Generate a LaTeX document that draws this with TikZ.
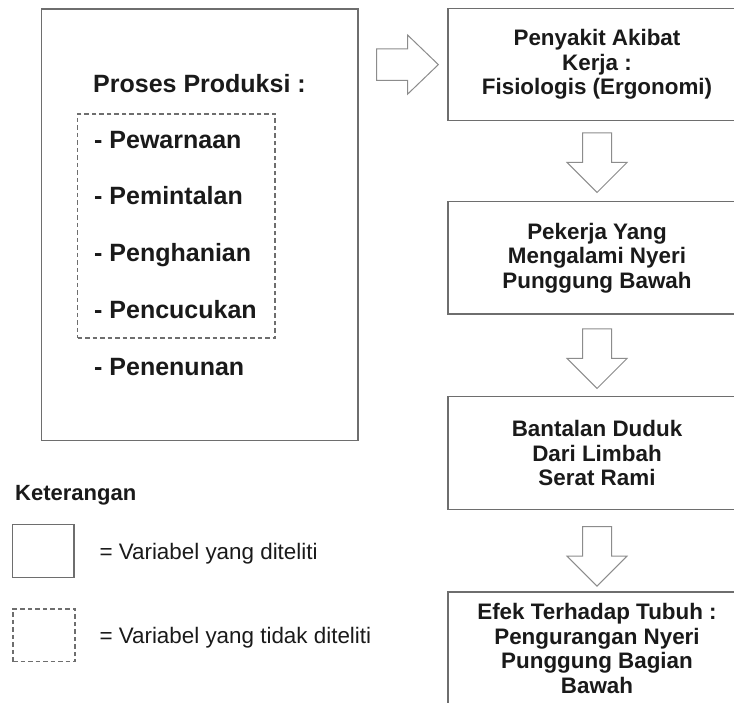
\documentclass[tikz,border=0pt]{standalone}
\usepackage{fontspec}
\setmainfont{Liberation Sans}
\usetikzlibrary{calc}
\definecolor{boxline}{HTML}{6E6E6E}
\definecolor{arrline}{HTML}{8C8C8C}
\definecolor{txt}{HTML}{1A1A1A}
\begin{document}
\begin{tikzpicture}[x=1pt,y=-1pt,
  solidbox/.style={draw=boxline, line width=1.3pt, inner sep=0pt},
  dashbox/.style={draw=boxline, line width=1.1pt, dash pattern=on 4.5pt off 3pt, inner sep=0pt},
  rbox/.style={solidbox, minimum width=298pt, align=center, text=txt,
    font=\fontsize{22.4}{24.5}\selectfont\bfseries},
  itemtext/.style={anchor=base west, inner sep=0pt, text=txt,
    font=\fontsize{25}{30}\selectfont\bfseries},
  legtext/.style={anchor=base west, inner sep=0pt, text=txt,
    font=\fontsize{22.4}{26}\selectfont},
  arrowshape/.style={draw=arrline, line width=1pt, line join=miter, fill=white},
  downarrow/.pic={\draw[arrowshape] (-14.5,0) -- (14.5,0) -- (14.5,29.5) -- (30,29.5) -- (0,59.5) -- (-30,29.5) -- (-14.5,29.5) -- cycle;},
  rightarrow/.pic={\draw[arrowshape] (0,-15.8) -- (31,-15.8) -- (31,-29.5) -- (61.7,0) -- (31,29.5) -- (31,15.8) -- (0,15.8) -- cycle;}
]
\useasboundingbox (0,0) rectangle (734,702);
\clip (0,0) rectangle (734,702);
\fill[white] (0,0) rectangle (734,702);

% left box
\node[solidbox, minimum width=316.5pt, minimum height=431.5pt] (left) at (199.75,224.75) {};
\node[itemtext] (title) at (93,92) {Proses Produksi :};
\node[dashbox, minimum width=197.3pt, minimum height=224pt] (dbox) at (176.35,226) {};
\node[itemtext] (i1) at (94,148) {- Pewarnaan};
\node[itemtext] (i2) at (94,204.5) {- Pemintalan};
\node[itemtext] (i3) at (94,261) {- Penghanian};
\node[itemtext] (i4) at (94,318) {- Pencucukan};
\node[itemtext] (i5) at (94,375) {- Penenunan};

% right column
\node[rbox, minimum height=112.2pt] (b1) at (597,64.6) {Penyakit Akibat\\Kerja :\\Fisiologis (Ergonomi)};
\node[rbox, minimum height=112.3pt] (b2) at (597,257.85) {Pekerja Yang\\Mengalami Nyeri\\Punggung Bawah};
\node[rbox, minimum height=112.6pt] (b3) at (597,453) {Bantalan Duduk\\Dari Limbah\\Serat Rami};
\node[rbox, minimum height=113pt] (b4) at (597,648.5) {Efek Terhadap Tubuh :\\Pengurangan Nyeri\\Punggung Bagian\\Bawah};

% block arrows
\pic at ($(b1.west)+(-70.7,0)$) {rightarrow};
\pic at ($(b1.south)+(0,11.6)$) {downarrow};
\pic at ($(b2.south)+(0,14.3)$) {downarrow};
\pic at ($(b3.south)+(0,16.7)$) {downarrow};

% legend
\node[legtext, font=\fontsize{22}{26}\selectfont\bfseries] (ket) at (15,500) {Keterangan};
\node[solidbox, minimum width=61.7pt, minimum height=53.4pt] (lg1) at (43.15,551) {};
\node[legtext] (lt1) at (99.3,559.3) {= Variabel yang diteliti};
\node[dashbox, minimum width=62pt, minimum height=52.7pt] (lg2) at (44,635.35) {};
\node[legtext] (lt2) at (99.3,643.3) {= Variabel yang tidak diteliti};
\end{tikzpicture}
\end{document}
